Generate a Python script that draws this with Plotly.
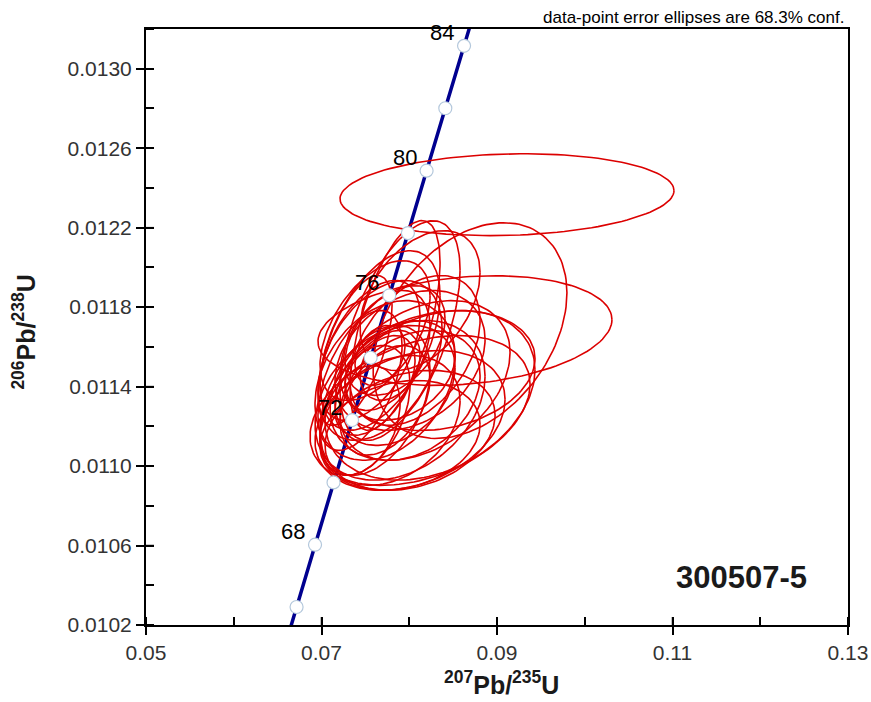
import numpy as np
import plotly.graph_objects as go

# Concordia (ages in Ma) and ratios
ages = [64, 66, 68, 70, 72, 74, 76, 78, 80, 82, 84, 86]
conc_x = [0.065058, 0.067159, 0.069263, 0.071371, 0.073484, 0.075600,
          0.077721, 0.079846, 0.081975, 0.084108, 0.086246, 0.088387]
conc_y = [0.0099773, 0.0102907, 0.0106041, 0.0109178, 0.0112314, 0.0115452,
          0.0118590, 0.0121730, 0.0124870, 0.0128012, 0.0131154, 0.0134298]
label_ages = [68, 72, 76, 80, 84]

# Error ellipses: centre, half-extent in x and y, correlation
ell_cx = [0.09114, 0.08635, 0.08692, 0.07895, 0.07838, 0.07667, 0.07553, 0.07724,
          0.07895, 0.08123, 0.08009, 0.07781, 0.07895, 0.07610, 0.07439, 0.07382,
          0.07781, 0.07667, 0.07838, 0.08123, 0.08236, 0.07667, 0.07496, 0.08009,
          0.08350, 0.07439, 0.08123, 0.08009,
          0.07610, 0.07838, 0.07724, 0.08066,
          0.07724, 0.07895, 0.07610, 0.08009]
ell_cy = [0.012366, 0.011682, 0.011682, 0.011682, 0.011708, 0.011532, 0.011582, 0.011431,
          0.011331, 0.011280, 0.011230, 0.011230, 0.011155, 0.011331, 0.011431, 0.011582,
          0.011507, 0.011557, 0.011632, 0.011431, 0.011356, 0.011632, 0.011280, 0.011532,
          0.011481, 0.011230, 0.011833, 0.011180,
          0.011682, 0.011406, 0.011331, 0.011582,
          0.011582, 0.011481, 0.011406, 0.011356]
ell_ax = [0.01903, 0.01675, 0.01105, 0.00684, 0.00513, 0.00707, 0.00570, 0.00798,
          0.00969, 0.01254, 0.01083, 0.00798, 0.00912, 0.00627, 0.00479, 0.00422,
          0.00342, 0.00285, 0.00570, 0.01026, 0.01197, 0.00684, 0.00513, 0.00855,
          0.01083, 0.00456, 0.00684, 0.00969,
          0.00627, 0.00684, 0.00513, 0.00741,
          0.00513, 0.00627, 0.00456, 0.00798]
ell_ay = [0.000206, 0.000276, 0.000543, 0.000553, 0.000528, 0.000402, 0.000352, 0.000402,
          0.000402, 0.000377, 0.000352, 0.000327, 0.000276, 0.000377, 0.000352, 0.000377,
          0.000176, 0.000151, 0.000276, 0.000402, 0.000427, 0.000452, 0.000327, 0.000352,
          0.000302, 0.000276, 0.000352, 0.000302,
          0.000352, 0.000302, 0.000276, 0.000377,
          0.000302, 0.000251, 0.000251, 0.000327]
ell_rho = [0.10, 0.20, 0.35, 0.55, 0.60, 0.40, 0.50, 0.30,
           0.30, 0.35, 0.30, 0.30, 0.20, 0.40, 0.50, 0.60,
           0.30, 0.30, 0.40, 0.35, 0.30, 0.50, 0.40, 0.30,
           0.20, 0.30, 0.40, 0.25,
           0.50, 0.30, 0.40, 0.40,
           0.40, 0.30, 0.50, 0.30]

x_ticks = [0.05, 0.07, 0.09, 0.11, 0.13]
y_ticks = [0.0102, 0.0106, 0.0110, 0.0114, 0.0118, 0.0122, 0.0126, 0.0130]

fig = go.Figure()

# concordia line
fig.add_trace(go.Scatter(x=conc_x, y=conc_y, mode="lines",
                         line=dict(color="#00008f", width=3.5),
                         hoverinfo="skip", showlegend=False))

# ellipses
t = np.linspace(0, 2 * np.pi, 140)
ex, ey = [], []
for cx, cy, ax, ay, r in zip(ell_cx, ell_cy, ell_ax, ell_ay, ell_rho):
    ex += list(cx + ax * np.cos(t)) + [None]
    ey += list(cy + ay * (r * np.cos(t) + np.sqrt(1 - r * r) * np.sin(t))) + [None]
fig.add_trace(go.Scatter(x=ex, y=ey, mode="lines",
                         line=dict(color="#dc0000", width=1.6),
                         hoverinfo="skip", showlegend=False))

# age markers
fig.add_trace(go.Scatter(x=conc_x, y=conc_y, mode="markers",
                         marker=dict(size=13, color="white",
                                     line=dict(color="#b4c8dc", width=1.2)),
                         hoverinfo="skip", showlegend=False))

annotations = []
for a in label_ages:
    i = ages.index(a)
    annotations.append(dict(x=conc_x[i], y=conc_y[i], xref="x", yref="y",
                            text=str(a), showarrow=False,
                            font=dict(family="Arial", size=22, color="black"),
                            xshift=-22, yshift=13))

annotations += [
    dict(x=1, y=1, xref="paper", yref="paper", xanchor="right", yanchor="bottom",
         text="data-point error ellipses are 68.3% conf.", showarrow=False,
         font=dict(family="Arial", size=17, color="black"), xshift=-2, yshift=0),
    dict(x=0.849, y=0.079, xref="paper", yref="paper", xanchor="center", yanchor="middle",
         text="<b>300507-5</b>", showarrow=False,
         font=dict(family="Arial", size=31, color="#1a1a1a")),
    dict(x=0.507, y=-0.1275, xref="paper", yref="paper", xanchor="center", yanchor="bottom",
         text="<b><sup>207</sup>Pb/<sup>235</sup>U</b>", showarrow=False,
         font=dict(family="Arial", size=25, color="#1a1a1a")),
    dict(x=-0.174, y=0.492, xref="paper", yref="paper", xanchor="center", yanchor="middle",
         text="<b><sup>206</sup>Pb/<sup>238</sup>U</b>", showarrow=False, textangle=-90,
         font=dict(family="Arial", size=25, color="#1a1a1a")),
]

# inner halves of the major ticks (so major ticks cross the axis line)
shapes = []
for v in x_ticks[1:-1]:
    shapes.append(dict(type="line", xref="x", yref="paper", x0=v, x1=v,
                       y0=0, y1=8 / 596, line=dict(color="black", width=1.5)))
for v in y_ticks[1:]:
    shapes.append(dict(type="line", xref="paper", yref="y", x0=0, x1=8 / 702,
                       y0=v, y1=v, line=dict(color="black", width=1.5)))

axis_common = dict(ticks="outside", ticklen=8, tickwidth=1.5, tickcolor="black",
                   showline=True, linecolor="black", linewidth=2, mirror=True,
                   showgrid=False, zeroline=False, automargin=False,
                   tickfont=dict(family="Arial", size=21, color="#333333"))

fig.update_layout(
    width=871, height=702,
    margin=dict(l=146, r=23, t=29, b=77, autoexpand=False),
    paper_bgcolor="white", plot_bgcolor="white",
    showlegend=False,
    annotations=annotations,
    shapes=shapes,
    xaxis=dict(range=[0.05, 0.13], tickvals=x_ticks,
               ticktext=[f"{v:.2f}" for v in x_ticks],
               minor=dict(dtick=0.01, tick0=0.05, ticks="inside", ticklen=8,
                          tickwidth=1.5, tickcolor="black"),
               **axis_common),
    yaxis=dict(range=[0.0102, 0.0132], tickvals=y_ticks,
               ticktext=[f"{v:.4f}" for v in y_ticks],
               minor=dict(dtick=0.0002, tick0=0.0102, ticks="inside", ticklen=8,
                          tickwidth=1.5, tickcolor="black"),
               **axis_common),
)

fig.write_html("out.html")
